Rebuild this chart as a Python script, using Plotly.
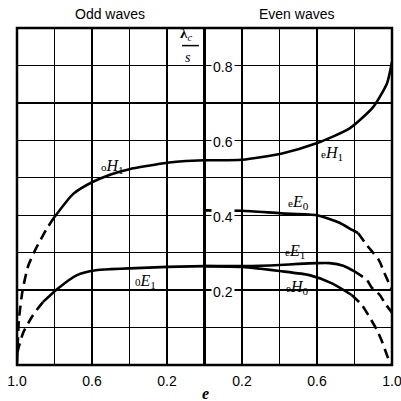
import plotly.graph_objects as go

# ---- data (e values, lambda_c / s) ----
# Odd waves (drawn on left half, plotted at u = -e)
oH1_e = [0.0, 0.1, 0.2, 0.3, 0.4, 0.5, 0.6, 0.7, 0.8]
oH1_y = [0.547, 0.545, 0.54, 0.532, 0.523, 0.509, 0.488, 0.457, 0.395]
oH1d_e = [0.8, 0.84, 0.9, 0.94, 0.97, 0.99, 1.0]
oH1d_y = [0.395, 0.365, 0.31, 0.265, 0.2, 0.12, 0.0]

oE1_e = [0.0, 0.2, 0.4, 0.5, 0.58, 0.68, 0.78, 0.862]
oE1_y = [0.264, 0.262, 0.258, 0.256, 0.253, 0.24, 0.205, 0.168]
oE1d_e = [0.862, 0.915, 0.968, 1.0]
oE1d_y = [0.168, 0.133, 0.085, 0.03]

# Even waves (right half, u = e)
eH1_e = [0.0, 0.2, 0.414, 0.597, 0.774, 0.898, 0.973, 1.0]
eH1_y = [0.547, 0.548, 0.565, 0.592, 0.632, 0.688, 0.752, 0.81]

eE0_e = [0.0, 0.2, 0.41, 0.6, 0.72, 0.79, 0.82]
eE0_y = [0.413, 0.412, 0.405, 0.40, 0.38, 0.36, 0.352]
eE0d_e = [0.82, 0.866, 0.93, 0.96, 1.0]
eE0d_y = [0.352, 0.32, 0.28, 0.245, 0.2]

eE1_e = [0.0, 0.2, 0.3, 0.4, 0.5, 0.6, 0.667, 0.74, 0.8]
eE1_y = [0.264, 0.264, 0.265, 0.267, 0.27, 0.272, 0.272, 0.265, 0.25]
eE1d_e = [0.8, 0.866, 0.89, 0.935, 0.962, 1.0]
eE1d_y = [0.25, 0.227, 0.208, 0.187, 0.165, 0.14]

eH0_e = [0.0, 0.2, 0.3, 0.4, 0.56, 0.68, 0.785]
eH0_y = [0.264, 0.262, 0.257, 0.251, 0.24, 0.218, 0.187]
eH0d_e = [0.785, 0.84, 0.88, 0.92, 0.95, 0.978, 1.0]
eH0d_y = [0.187, 0.16, 0.128, 0.093, 0.059, 0.02, 0.0]

x_tick_vals = [-1.0, -0.8, -0.6, -0.4, -0.2, 0.0, 0.2, 0.4, 0.6, 0.8, 1.0]
x_tick_text = ["1.0", "", "0.6", "", "0.2", "", "0.2", "", "0.6", "", "1.0"]
y_label_vals = [0.2, 0.4, 0.6, 0.8]

fig = go.Figure()

def add(e, y, odd, dashed=False):
    u = [-v for v in e] if odd else list(e)
    fig.add_trace(go.Scatter(
        x=u, y=y, mode="lines", showlegend=False, hoverinfo="skip",
        line=dict(color="black", width=2.6, shape="spline", smoothing=0.6,
                  dash="10px,6px" if dashed else "solid")))

add(oH1_e, oH1_y, True)
add(oH1d_e, oH1d_y, True, True)
add(oE1_e, oE1_y, True)
add(oE1d_e, oE1d_y, True, True)
add(eH1_e, eH1_y, False)
add(eE0_e, eE0_y, False)
add(eE0d_e, eE0d_y, False, True)
add(eE1_e, eE1_y, False)
add(eE1d_e, eE1d_y, False, True)
add(eH0_e, eH0_y, False)
add(eH0d_e, eH0d_y, False, True)

SERIF = "Liberation Serif"
SANS = "Liberation Sans"

anns = []
# y tick labels placed beside the centre axis
for v in y_label_vals:
    anns.append(dict(x=0.035, y=v, xref="x", yref="y", text=f"{v:.1f}",
                     showarrow=False, xanchor="left", yanchor="middle", yshift=-2,
                     bgcolor="white", borderpad=1,
                     font=dict(family=SANS, size=14, color="black")))

curve_labels = [
    (-0.493, 0.531, "o", "H", "1"),
    (0.68, 0.565, "e", "H", "1"),
    (0.499, 0.435, "e", "E", "0"),
    (0.483, 0.302, "e", "E", "1"),
    (0.493, 0.208, "e", "H", "0"),
    (-0.317, 0.224, "0", "E", "1"),
]
for x, y, p, L, s in curve_labels:
    anns.append(dict(x=x, y=y, xref="x", yref="y",
                     text=f"<span style='font-size:11px'>{p}</span><i>{L}</i><sub>{s}</sub>",
                     showarrow=False, font=dict(family=SERIF, size=16, color="black")))

# lambda_c / s label
anns.append(dict(x=-0.1, y=0.884, xref="x", yref="y", text="<b>λ</b><sub><i>c</i></sub>",
                 showarrow=False, font=dict(family=SERIF, size=15, color="black")))
anns.append(dict(x=-0.088, y=0.822, xref="x", yref="y", text="<i>s</i>",
                 showarrow=False, font=dict(family=SERIF, size=14, color="black")))

# titles
anns.append(dict(x=-0.504, y=1, xref="x", yref="paper", text="Odd waves", showarrow=False,
                 yanchor="bottom", yshift=4, font=dict(family=SANS, size=14, color="black")))
anns.append(dict(x=0.49, y=1, xref="x", yref="paper", text="Even waves", showarrow=False,
                 yanchor="bottom", yshift=4, font=dict(family=SANS, size=14, color="black")))
# axis title
anns.append(dict(x=0.003, y=0, xref="x", yref="paper", text="<b><i>e</i></b>", showarrow=False,
                 yanchor="middle", yshift=-28, font=dict(family=SERIF, size=16, color="black")))

shapes = [
    dict(type="rect", xref="paper", yref="paper", x0=0, x1=1, y0=0, y1=1,
         line=dict(color="black", width=2.5)),
    dict(type="line", xref="x", yref="paper", x0=0, x1=0, y0=0, y1=1,
         line=dict(color="black", width=3)),
    dict(type="line", xref="x", yref="y", x0=-0.12, x1=-0.03, y0=0.853, y1=0.853,
         line=dict(color="black", width=1.5)),
]

fig.update_layout(
    width=401, height=401,
    margin=dict(l=17, r=9, t=28, b=36, autoexpand=False),
    paper_bgcolor="white", plot_bgcolor="white",
    annotations=anns, shapes=shapes,
    xaxis=dict(range=[-1, 1], tickvals=x_tick_vals, ticktext=x_tick_text,
               showgrid=True, gridcolor="black", gridwidth=1.4, zeroline=False,
               automargin=False, ticklabeloverflow="allow",
               ticks="outside", ticklen=3, tickcolor="white",
               tickfont=dict(family=SANS, size=14, color="black"), fixedrange=True),
    yaxis=dict(range=[0, 0.9], dtick=0.1, tick0=0, showticklabels=False,
               showgrid=True, gridcolor="black", gridwidth=1.4, zeroline=False,
               automargin=False, fixedrange=True),
)

fig.write_html("out.html", config={"displayModeBar": False, "staticPlot": True},
               post_script="document.body.style.margin='0';document.body.style.overflow='hidden';")
